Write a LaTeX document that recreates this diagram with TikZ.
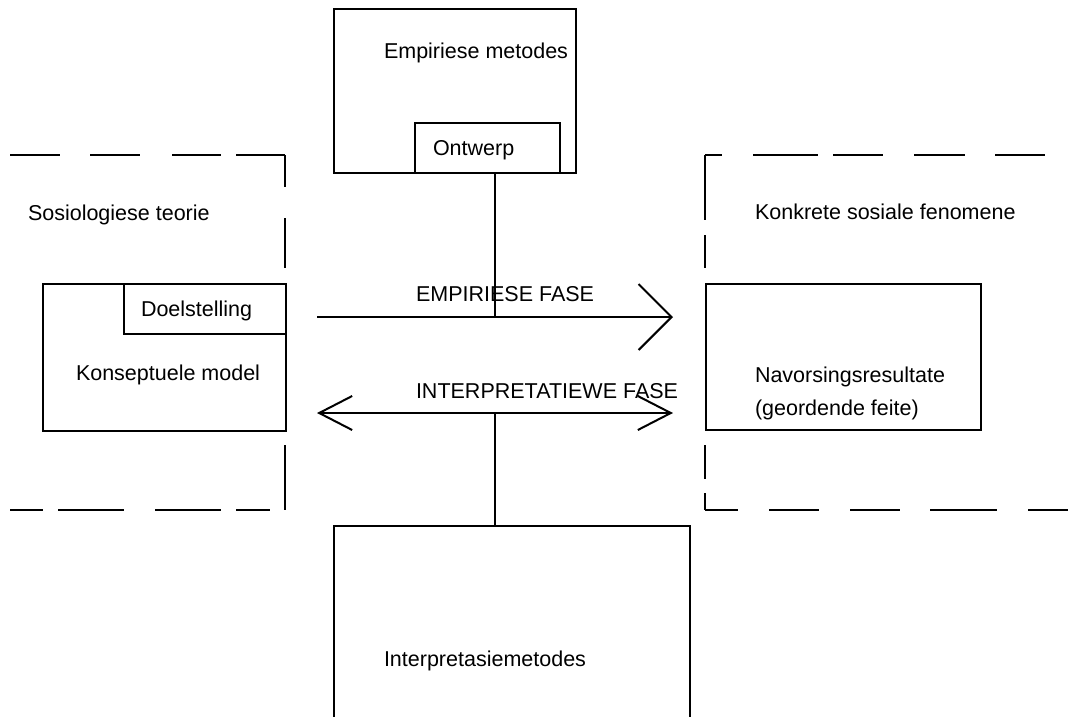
\documentclass[tikz,border=0pt]{standalone}
\usepackage{fontspec}
\setmainfont{Liberation Sans}
\usetikzlibrary{arrows.meta}

\begin{document}
\begin{tikzpicture}[x=1pt,y=-1pt,line width=2pt,
  box/.style={draw,rectangle,inner sep=0pt,anchor=north west},
  lbl/.style={inner sep=0pt,anchor=base west,font=\fontsize{21.5}{33}\selectfont},
  bigtip/.style={-{Straight Barb[length=33pt,width=66pt]}},
  twotip/.style={{Straight Barb[length=33pt,width=34pt]}-{Straight Barb[length=33pt,width=34pt]}}]
\useasboundingbox (0,0) rectangle (1068,716);
\clip (0,0) rectangle (1068,716);

% Dashed frame, left
\foreach \a/\b in {10/60,90/140,172/221,236/285}
  \draw (\a,155) -- (\b,155);
\foreach \a/\b in {10/43,58/124,155/221,236/270}
  \draw (\a,510) -- (\b,510);
\foreach \a/\b in {155/187,218/268,445/510}
  \draw (285,\a) -- (285,\b);

% Dashed frame, right
\foreach \a/\b in {705/722,753/818,833/883,914/965,995/1045}
  \draw (\a,155) -- (\b,155);
\foreach \a/\b in {705/738,769/819,850/900,930/997,1028/1068}
  \draw (\a,510) -- (\b,510);
\foreach \a/\b in {155/220,235/268,445/479,493/510}
  \draw (705,\a) -- (705,\b);

% Boxes
\node[box,minimum width=242,minimum height=164] (empbox) at (333,8) {};
\node[box,minimum width=145,minimum height=50] (ontwerp) at (414,122) {};
\node[box,minimum width=243,minimum height=147] (konsep) at (42,283) {};
\node[box,minimum width=162,minimum height=50] (doel) at (123,283) {};
\node[box,minimum width=275,minimum height=146] (navors) at (705,283) {};
\node[box,minimum width=356,minimum height=230] (interp) at (333,525) {};

% Texts
\node[lbl] (tempir) at (383,58) {Empiriese metodes};
\node[lbl] (tontw) at (432,155) {Ontwerp};
\node[lbl] (tsosio) at (27,220) {Sosiologiese teorie};
\node[lbl] (tdoel) at (140,316) {Doelstelling};
\node[lbl] (tkonsep) at (75,380) {Konseptuele model};
\node[lbl] (tkonkr) at (754,219) {Konkrete sosiale fenomene};
\node[lbl,anchor=north west,align=left] (tnavors) at (754,366) {Navorsingsresultate\\(geordende feite)};
\node[lbl] (tinterp) at (383,666) {Interpretasiemetodes};

% Phases
\coordinate (empstart) at (317,317);
\coordinate (empend) at (673,317);
\coordinate (empmid) at (495,317);
\coordinate (intstart) at (317,413);
\coordinate (intend) at (673,413);
\coordinate (intmid) at (495,413);

\draw[bigtip] (empstart) -- (empend);
\draw[twotip] (intstart) -- (intend);
\draw (ontwerp.south -| empmid) -- (empmid);
\draw (intmid) -- (interp.north -| intmid);

\node[lbl] (fempir) at (415,301) {EMPIRIESE FASE};
\node[lbl] (finterp) at (415,398) {INTERPRETATIEWE FASE};

\end{tikzpicture}
\end{document}
